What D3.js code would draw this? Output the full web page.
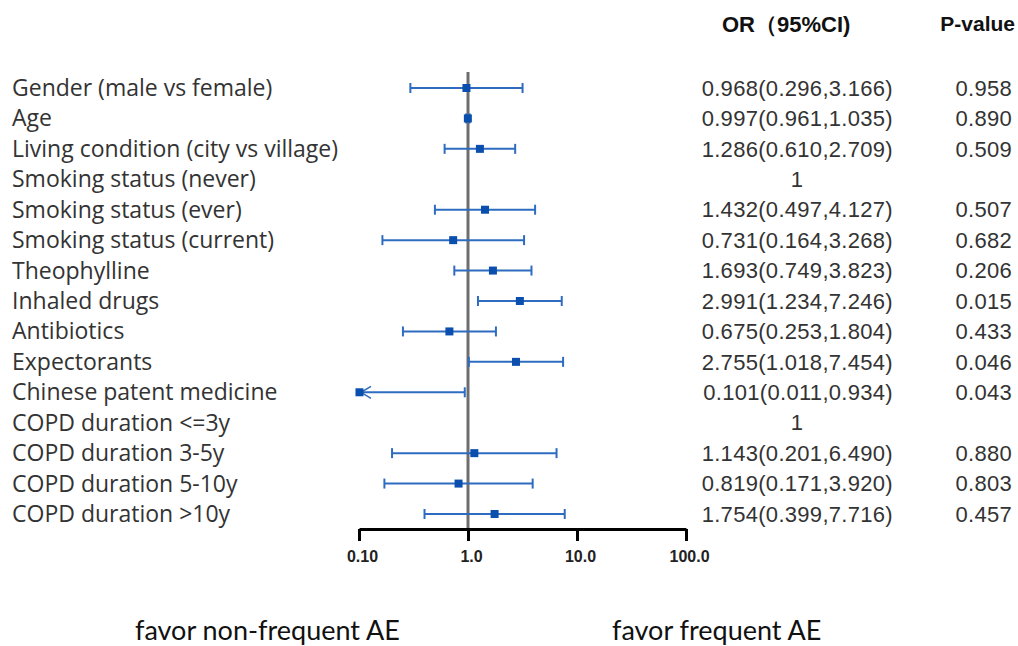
<!DOCTYPE html>
<html>
<head>
<meta charset="utf-8">
<script src="https://cdn.jsdelivr.net/npm/d3@7"></script>
<style>
  body { margin: 0; background: #fff; }
  svg { display: block; }
</style>
</head>
<body>
<div id="forest"></div>
<script>
var WIDTH = 1018;
var HEIGHT = 646;

var labels = [
	"Gender (male vs female)",
	"Age",
	"Living condition (city vs village)",
	"Smoking status (never)",
	"Smoking status (ever)",
	"Smoking status (current)",
	"Theophylline",
	"Inhaled drugs",
	"Antibiotics",
	"Expectorants",
	"Chinese patent medicine",
	"COPD duration <=3y",
	"COPD duration 3-5y",
	"COPD duration 5-10y",
	"COPD duration >10y"
];
// null = reference category
var or    = [0.968, 0.997, 1.286, null, 1.432, 0.731, 1.693, 2.991, 0.675, 2.755, 0.101, null, 1.143, 0.819, 1.754];
var lower = [0.296, 0.961, 0.610, null, 0.497, 0.164, 0.749, 1.234, 0.253, 1.018, 0.011, null, 0.201, 0.171, 0.399];
var upper = [3.166, 1.035, 2.709, null, 4.127, 3.268, 3.823, 7.246, 1.804, 7.454, 0.934, null, 6.490, 3.920, 7.716];
var pvals = ["0.958", "0.890", "0.509", "", "0.507", "0.682", "0.206", "0.015", "0.433", "0.046", "0.043", "", "0.880", "0.803", "0.457"];

var tickValues = [0.1, 1, 10, 100];
var tickLabels = ["0.10", "1.0", "10.0", "100.0"];

var LINE_COLOR = "#2d6cc0";
var MARK_COLOR = "#0b4fae";
var TEXT_COLOR = "#333";
var BOX = 8;
var CAP = 5;

var svg = d3.select("#forest").append("svg")
	.attr("width", WIDTH)
	.attr("height", HEIGHT);

var x = d3.scaleLog().domain([0.1, 100]).range([359, 686]);
var y = d3.scalePoint().domain(d3.range(labels.length)).range([88, 514]);

var rows = labels.map(function(l, i) {
	return {label: l, or: or[i], lo: lower[i], hi: upper[i], p: pvals[i], i: i};
});

// row labels
svg.append("g").selectAll("text")
	.data(rows)
	.enter()
	.append("text")
	.attr("x", 12)
	.attr("y", d => y(d.i))
	.attr("dy", "0.35em")
	.style("font-family", "'Open Sans', sans-serif")
	.style("font-size", "23px")
	.attr("fill", TEXT_COLOR)
	.text(d => d.label);

// reference line at OR = 1
svg.append("line")
	.attr("x1", x(1)).attr("x2", x(1))
	.attr("y1", 72).attr("y2", 530)
	.attr("stroke", "#6e6e6e")
	.attr("stroke-width", 3);

// confidence intervals
var est = rows.filter(d => d.or !== null);
var g = svg.append("g").selectAll("g")
	.data(est)
	.enter()
	.append("g")
	.attr("stroke", LINE_COLOR)
	.attr("stroke-width", 2);

g.append("line")
	.attr("x1", d => x(Math.max(d.lo, 0.1)))
	.attr("x2", d => x(d.hi))
	.attr("y1", d => y(d.i))
	.attr("y2", d => y(d.i));

g.filter(d => d.lo >= 0.1).append("line")
	.attr("x1", d => x(d.lo)).attr("x2", d => x(d.lo))
	.attr("y1", d => y(d.i) - CAP).attr("y2", d => y(d.i) + CAP);

g.append("line")
	.attr("x1", d => x(d.hi)).attr("x2", d => x(d.hi))
	.attr("y1", d => y(d.i) - CAP).attr("y2", d => y(d.i) + CAP);

// arrow for intervals clipped at the left edge
g.filter(d => d.lo < 0.1).append("path")
	.attr("fill", "none")
	.attr("stroke-width", 1.5)
	.attr("d", d => {
		var x0 = x(0.1) + 2, yy = y(d.i);
		return "M" + (x0 + 10) + "," + (yy - 6) + "L" + x0 + "," + yy + "L" + (x0 + 10) + "," + (yy + 6);
	});

g.append("rect")
	.attr("x", d => x(d.or) - BOX / 2)
	.attr("y", d => y(d.i) - BOX / 2)
	.attr("width", BOX)
	.attr("height", BOX)
	.attr("fill", MARK_COLOR)
	.attr("stroke", "none");

// x axis
var axis = d3.axisBottom(x)
	.tickValues(tickValues)
	.tickSize(12)
	.tickSizeOuter(0)
	.tickFormat((d, i) => tickLabels[i]);

var ax = svg.append("g")
	.attr("transform", "translate(0,529)")
	.call(axis);
ax.select(".domain").attr("stroke", "#000").attr("stroke-width", 3);
ax.selectAll(".tick line").attr("stroke", "#000").attr("stroke-width", 3);
ax.selectAll(".tick text")
	.attr("y", 22)
	.attr("dx", 3)
	.attr("fill", "#222")
	.style("font-family", "'Liberation Sans', Arial, sans-serif")
	.style("font-size", "16px")
	.style("font-weight", "bold");

// OR and p-value columns
svg.append("text")
	.attr("x", 722).attr("y", 24)
	.attr("dy", "0.35em")
	.style("font-family", "'Liberation Sans', Arial, sans-serif")
	.style("font-size", "22px")
	.style("font-weight", "bold")
	.attr("fill", "#111")
	.text("OR（95%CI)");

svg.append("text")
	.attr("x", 1015).attr("y", 24)
	.attr("dy", "0.35em")
	.attr("text-anchor", "end")
	.style("font-family", "'Liberation Sans', Arial, sans-serif")
	.style("font-size", "21px")
	.style("font-weight", "bold")
	.attr("fill", "#111")
	.text("P-value");

svg.append("g").selectAll("text")
	.data(rows)
	.enter()
	.append("text")
	.attr("x", d => d.or === null ? 797 : 893)
	.attr("y", d => y(d.i))
	.attr("dy", "0.35em")
	.attr("text-anchor", d => d.or === null ? "middle" : "end")
	.style("font-family", "'Liberation Sans', Arial, sans-serif")
	.style("font-size", "22px")
	.style("letter-spacing", "0.3px")
	.attr("fill", TEXT_COLOR)
	.text(d => d.or === null ? "1" : d3.format(".3f")(d.or) + "(" + d3.format(".3f")(d.lo) + "," + d3.format(".3f")(d.hi) + ")");

svg.append("g").selectAll("text")
	.data(rows)
	.enter()
	.append("text")
	.attr("x", 1012)
	.attr("y", d => y(d.i))
	.attr("dy", "0.35em")
	.attr("text-anchor", "end")
	.style("font-family", "'Liberation Sans', Arial, sans-serif")
	.style("font-size", "22px")
	.style("letter-spacing", "0.3px")
	.attr("fill", TEXT_COLOR)
	.text(d => d.p);

// bottom captions
svg.append("text")
	.attr("x", 135).attr("y", 640)
	.style("font-family", "Lato, sans-serif")
	.style("font-size", "27px")
	.attr("fill", "#111")
	.text("favor non-frequent AE");

svg.append("text")
	.attr("x", 612).attr("y", 640)
	.style("font-family", "Lato, sans-serif")
	.style("font-size", "27px")
	.attr("fill", "#111")
	.text("favor frequent AE");
</script>
</body>
</html>
